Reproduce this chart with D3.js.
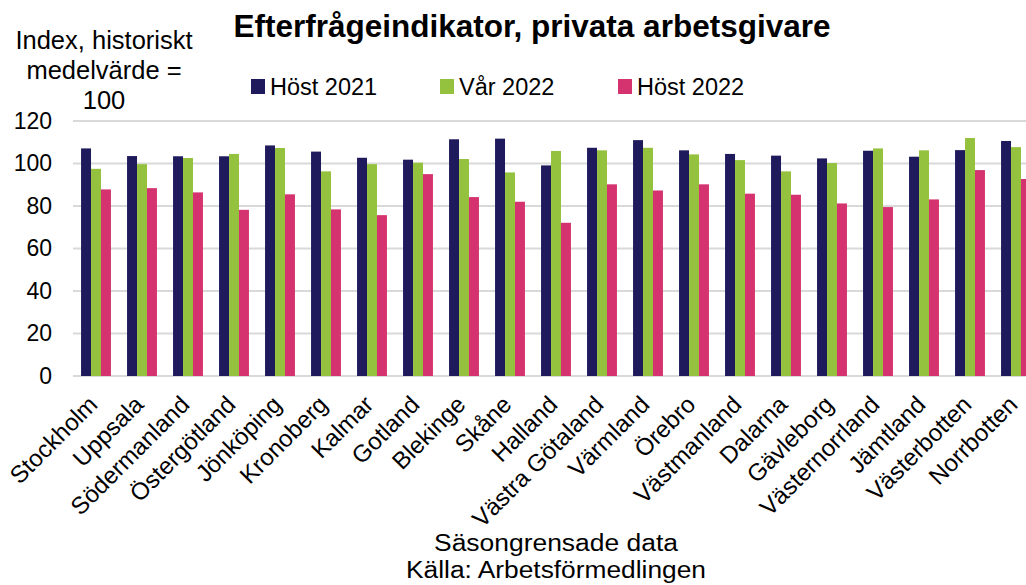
<!DOCTYPE html>
<html>
<head>
<meta charset="utf-8">
<script src="https://cdn.jsdelivr.net/npm/d3@7"></script>
<style>
  body { margin: 0; background: #fff; }
  text { font-family: "Liberation Sans", Arial, sans-serif; fill: #000; }
</style>
</head>
<body>
<svg id="chart" width="1026" height="585"></svg>
<script>
const regions = ['Stockholm', 'Uppsala', 'Södermanland', 'Östergötland', 'Jönköping', 'Kronoberg',
  'Kalmar', 'Gotland', 'Blekinge', 'Skåne', 'Halland', 'Västra Götaland', 'Värmland', 'Örebro',
  'Västmanland', 'Dalarna', 'Gävleborg', 'Västernorrland', 'Jämtland', 'Västerbotten', 'Norrbotten']
const seriesNames = ['Höst 2021', 'Vår 2022', 'Höst 2022']
const host2021 = [107.1, 103.5, 103.4, 103.4, 108.5, 105.6, 102.7, 101.8, 111.4, 111.7, 99.1,
  107.4, 111.0, 106.2, 104.5, 103.7, 102.4, 106.0, 103.2, 106.3, 110.6]
const var2022 = [97.5, 99.7, 102.6, 104.5, 107.3, 96.3, 99.7, 100.4, 102.1, 95.8, 105.9,
  106.2, 107.4, 104.3, 101.6, 96.3, 100.2, 107.1, 106.2, 112.0, 107.7]
const host2022 = [87.8, 88.4, 86.4, 78.2, 85.5, 78.4, 75.7, 95.0, 84.2, 82.0, 72.1,
  90.2, 87.3, 90.2, 85.8, 85.3, 81.2, 79.5, 83.1, 96.9, 92.7]
const yTicks = [0, 20, 40, 60, 80, 100, 120]
const colors = ['#1f1a5c', '#95c23e', '#d5336f']

const values = [host2021, var2022, host2022]
const svg = d3.select('#chart')

// skalor
const x0 = d3.scaleBand().domain(regions).range([73, 73 + 46 * regions.length])
  .paddingInner(0.35).paddingOuter(0.175)
const x1 = d3.scaleBand().domain(seriesNames).range([0, x0.bandwidth()])
const y = d3.scaleLinear().domain([0, 120]).range([376, 121])

// rutnät
svg.append('g').selectAll('line').data(yTicks).join('line')
  .attr('x1', 73).attr('x2', 1026)
  .attr('y1', d => y(d)).attr('y2', d => y(d))
  .attr('stroke', '#d9d9d9').attr('stroke-width', 2)

// y-axel
const yAxis = svg.append('g').attr('transform', 'translate(60,0)')
  .call(d3.axisLeft(y).tickValues(yTicks).tickSize(0).tickPadding(8))
yAxis.select('.domain').remove()
yAxis.selectAll('text').style('font-size', '23px').attr('font-family', null)

// staplar
const groups = svg.append('g').selectAll('g').data(regions).join('g')
  .attr('transform', d => `translate(${x0(d)},0)`)
groups.selectAll('rect')
  .data((d, i) => seriesNames.map((s, j) => ({ s, v: values[j][i], c: colors[j] })))
  .join('rect')
  .attr('x', d => x1(d.s))
  .attr('width', x1.bandwidth())
  .attr('y', d => y(d.v))
  .attr('height', d => y(0) - y(d.v))
  .attr('fill', d => d.c)

// x-etiketter
svg.append('g').selectAll('text').data(regions).join('text')
  .attr('transform', d => `translate(${x0(d) + x0.bandwidth() / 2 + 3},406) rotate(-45)`)
  .attr('text-anchor', 'end')
  .style('font-size', '24px')
  .text(d => d)

// titel
svg.append('text').attr('x', 532).attr('y', 37).attr('text-anchor', 'middle')
  .style('font-size', '31.5px').style('font-weight', 'bold')
  .text('Efterfrågeindikator, privata arbetsgivare')

// y-axelns titel
const yTitle = ['Index, historiskt', 'medelvärde =', '100']
svg.append('g').selectAll('text').data(yTitle).join('text')
  .attr('x', 104).attr('y', (d, i) => 49 + i * 30)
  .attr('text-anchor', 'middle').style('font-size', '25.5px')
  .text(d => d)

// legend
const legendX = [251, 440, 618]
const legend = svg.append('g').selectAll('g').data(seriesNames).join('g')
  .attr('transform', (d, i) => `translate(${legendX[i]},79)`)
legend.append('rect').attr('width', 14).attr('height', 15).attr('fill', (d, i) => colors[i])
legend.append('text').attr('x', 19).attr('y', 16).style('font-size', '23.5px').text(d => d)

// källa (texten är något bredare i originalet)
const notes = ['Säsongrensade data', 'Källa: Arbetsförmedlingen']
const noteWidths = [244, 300]
svg.append('g').selectAll('text').data(notes).join('text')
  .attr('x', 556).attr('y', (d, i) => 551 + i * 27)
  .attr('text-anchor', 'middle').style('font-size', '23px')
  .attr('textLength', (d, i) => noteWidths[i])
  .attr('lengthAdjust', 'spacingAndGlyphs')
  .text(d => d)
</script>
</body>
</html>
